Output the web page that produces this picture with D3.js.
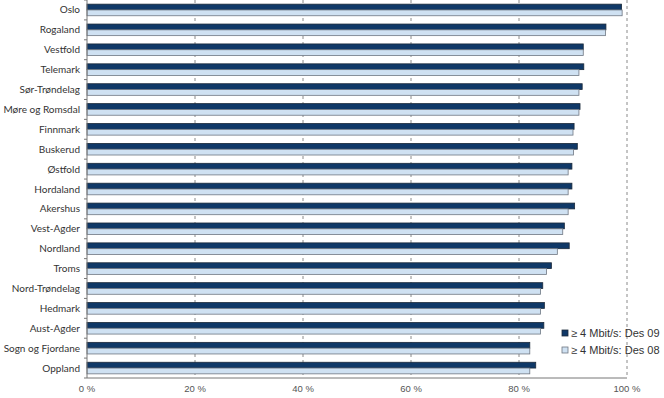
<!DOCTYPE html>
<html lang="no">
<head>
<meta charset="UTF-8">
<title>Bredbånd per fylke</title>
<script src="https://d3js.org/d3.v7.min.js"></script>
<style>
  body { margin: 0; background: #fff; }
  svg { display: block; }
</style>
</head>
<body>
<svg id="chart" width="664" height="398"></svg>
<script>
// fylker, sortert som i figuren
var fylker = ["Oslo", "Rogaland", "Vestfold", "Telemark", "Sør-Trøndelag", "Møre og Romsdal",
  "Finnmark", "Buskerud", "Østfold", "Hordaland", "Akershus", "Vest-Agder", "Nordland",
  "Troms", "Nord-Trøndelag", "Hedmark", "Aust-Agder", "Sogn og Fjordane", "Oppland"];

// dekning >= 4 Mbit/s, prosent
var des09 = [99.0, 96.1, 91.9, 92.0, 91.7, 91.3, 90.2, 90.8, 89.8, 89.8, 90.3, 88.4, 89.3,
  86.0, 84.4, 84.7, 84.6, 82.0, 83.1];
var des08 = [99.1, 96.0, 91.9, 91.1, 91.1, 91.1, 90.0, 90.1, 89.1, 89.1, 89.1, 88.1, 87.1,
  85.1, 84.0, 84.0, 84.0, 82.0, 82.0];

var ticks = [0, 20, 40, 60, 80, 100];
var serier = ["≥ 4 Mbit/s: Des 09", "≥ 4 Mbit/s: Des 08"];

var svg = d3.select("#chart");
var x = d3.scaleLinear().domain([0, 100]).range([87, 627]);
var y = d3.scaleBand().domain(fylker).range([0, 378]).paddingInner(0).paddingOuter(0);

var barH = 5.8;

// gridlines
svg.append("g").selectAll("line").data(ticks.slice(1)).enter().append("line")
  .attr("x1", function(d) { return x(d); })
  .attr("x2", function(d) { return x(d); })
  .attr("y1", 0).attr("y2", 378)
  .attr("stroke", "#8a8a8a")
  .attr("stroke-width", 1)
  .attr("stroke-dasharray", "3,3");

// bars
var rows = svg.append("g").selectAll("g").data(fylker).enter().append("g")
  .attr("transform", function(d) { return "translate(0," + (y(d) + y.bandwidth() / 2) + ")"; });

rows.append("rect")
  .attr("x", x(0))
  .attr("y", -barH)
  .attr("width", function(d, i) { return x(des09[i]) - x(0); })
  .attr("height", barH)
  .attr("fill", "#0f3867")
  .attr("stroke", "#1c2a3a")
  .attr("stroke-width", 0.8);

rows.append("rect")
  .attr("x", x(0))
  .attr("y", 0)
  .attr("width", function(d, i) { return x(des08[i]) - x(0); })
  .attr("height", barH)
  .attr("fill", "#cfe1f2")
  .attr("stroke", "#6f7782")
  .attr("stroke-width", 0.8);

// y axis
var yAxis = svg.append("g")
  .attr("transform", "translate(" + x(0) + ",0)");
yAxis.append("line").attr("x1", 0).attr("x2", 0).attr("y1", 0).attr("y2", 378)
  .attr("stroke", "#777");
yAxis.selectAll(".tk").data(d3.range(fylker.length + 1)).enter().append("line")
  .attr("x1", -3).attr("x2", 0)
  .attr("y1", function(d) { return d * y.step(); })
  .attr("y2", function(d) { return d * y.step(); })
  .attr("stroke", "#777");
yAxis.selectAll("text").data(fylker).enter().append("text")
  .attr("x", -7)
  .attr("y", function(d) { return y(d) + y.bandwidth() / 2; })
  .attr("dy", "0.35em")
  .attr("text-anchor", "end")
  .attr("font-family", "Lato, 'Open Sans', sans-serif")
  .attr("font-size", 10)
  .attr("fill", "#333")
  .text(function(d) { return d; });

// x axis
var xAxis = svg.append("g").attr("transform", "translate(0,378)");
xAxis.append("line").attr("x1", x(0)).attr("x2", x(100)).attr("y1", 0).attr("y2", 0)
  .attr("stroke", "#777");
xAxis.selectAll("text").data(ticks).enter().append("text")
  .attr("x", function(d) { return x(d); })
  .attr("y", 14)
  .attr("text-anchor", "middle")
  .attr("font-family", "'Liberation Sans', Arial, sans-serif")
  .attr("font-size", 9.5)
  .attr("fill", "#555")
  .text(function(d) { return d + " %"; });

// legend
var leg = svg.append("g").attr("transform", "translate(562,330)");
var legFill = ["#0f3867", "#cfe1f2"];
var legStroke = ["#1c2a3a", "#6f7782"];
serier.forEach(function(s, i) {
  var g = leg.append("g").attr("transform", "translate(0," + (i * 17) + ")");
  g.append("rect").attr("x", 0).attr("y", 0).attr("width", 6).attr("height", 6)
    .attr("fill", legFill[i]).attr("stroke", legStroke[i]).attr("stroke-width", 0.8);
  g.append("text").attr("x", 9).attr("y", 3).attr("dy", "0.35em")
    .attr("font-family", "'Liberation Sans', Arial, sans-serif")
    .attr("font-size", 11)
    .attr("fill", "#333")
    .text(s);
});
</script>
</body>
</html>
